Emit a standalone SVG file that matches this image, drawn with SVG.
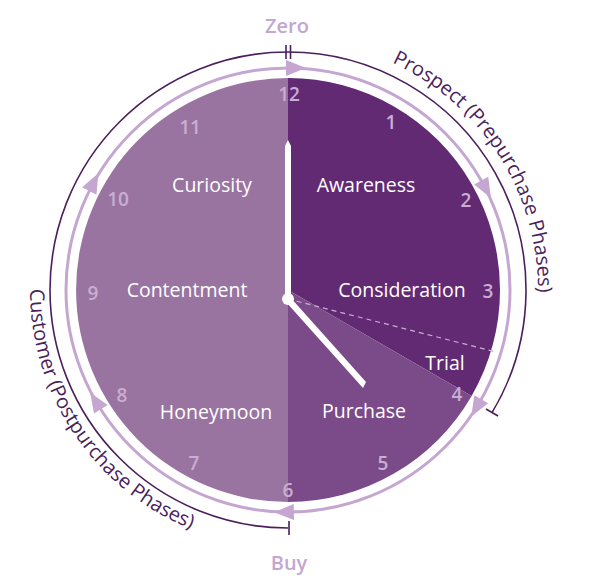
<svg xmlns="http://www.w3.org/2000/svg" width="600" height="578" viewBox="0 0 600 578">
<style>
.num{font-family:"Open Sans",sans-serif;font-size:19px;font-weight:600;fill:#c9aed3;text-anchor:middle}
.lbl{font-family:"Open Sans",sans-serif;font-size:19.5px;fill:#fff;text-anchor:middle}
.big{font-family:"Open Sans",sans-serif;font-size:20px;font-weight:600;fill:#c4a6d0;text-anchor:middle}
.arc{font-family:"Open Sans",sans-serif;font-size:20px;fill:#4a1f5c}
.ah{fill:#c4a6d0}
</style>
<defs>
<path id="pp" d="M373.5,55.1 A250,250 0 0 1 534.2,333.4"/>
<path id="cp" d="M30.2,281 A258,258 0 0 0 221.2,539.2"/>
<polygon id="arr" points="306,68 286,60 286,76"/>
</defs>
<rect width="600" height="578" fill="#fff"/>
<g id="face">
<path d="M288,290 L288,78 A212,212 0 0 0 288,502 Z" fill="#9a74a0"/>
<path d="M288,290 L288,78 A212,212 0 0 1 471.6,396 Z" fill="#622a73"/>
<path d="M288,290 L471.6,396 A212,212 0 0 1 288,502 Z" fill="#7a4b88"/>
<line x1="288" y1="299" x2="496" y2="352" stroke="#c9aed3" stroke-width="1.2" stroke-dasharray="5,4"/>
</g>
<g id="connectors">
<circle cx="288" cy="290" r="222" fill="none" stroke="#c4a6d0" stroke-width="3"/>
<use href="#arr" class="ah" transform="rotate(0 288 290)"/>
<use href="#arr" class="ah" transform="rotate(61 288 290)"/>
<use href="#arr" class="ah" transform="rotate(120 288 290)"/>
<use href="#arr" class="ah" transform="rotate(179 288 290)"/>
<use href="#arr" class="ah" transform="rotate(238 288 290)"/>
<use href="#arr" class="ah" transform="rotate(297 288 290)"/>
<g fill="none" stroke="#4a1f5c" stroke-width="1.6">
<path d="M288,52 A238,238 0 0 1 492,412.6"/>
<path d="M288,528 A238,238 0 0 1 288,52"/>
<line x1="286" y1="45" x2="286" y2="59"/>
<line x1="290.5" y1="45" x2="290.5" y2="59"/>
<line x1="486" y1="409" x2="498" y2="416"/>
<line x1="289" y1="521" x2="289" y2="535"/>
</g>
</g>
<g id="numbers">
<text class="num" x="289" y="101">12</text>
<text class="num" x="391" y="129">1</text>
<text class="num" x="466" y="207">2</text>
<text class="num" x="488" y="298">3</text>
<text class="num" x="457" y="401">4</text>
<text class="num" x="383" y="470">5</text>
<text class="num" x="288" y="497">6</text>
<text class="num" x="194" y="470">7</text>
<text class="num" x="122" y="402">8</text>
<text class="num" x="93" y="300">9</text>
<text class="num" x="118" y="206">10</text>
<text class="num" x="190" y="134">11</text>
</g>
<g id="labels">
<text class="lbl" x="212" y="192">Curiosity</text>
<text class="lbl" x="366" y="192">Awareness</text>
<text class="lbl" x="187" y="297">Contentment</text>
<text class="lbl" x="402" y="297">Consideration</text>
<text class="lbl" x="445" y="370">Trial</text>
<text class="lbl" x="216" y="419">Honeymoon</text>
<text class="lbl" x="364" y="418">Purchase</text>
</g>
<g id="hands" fill="#fff">
<polygon points="285,299 285,146 288,140 291,146 291,299"/>
<polygon points="286,302 290,297 366,382 363,388"/>
<circle cx="288" cy="299" r="6"/>
</g>
<g id="titles">
<text class="big" x="287" y="33">Zero</text>
<text class="big" x="289" y="570">Buy</text>
<text class="arc"><textPath href="#pp" startOffset="20">Prospect (Prepurchase Phases)</textPath></text>
<text class="arc"><textPath href="#cp" startOffset="8">Customer (Postpurchase Phases)</textPath></text>
</g>
</svg>
